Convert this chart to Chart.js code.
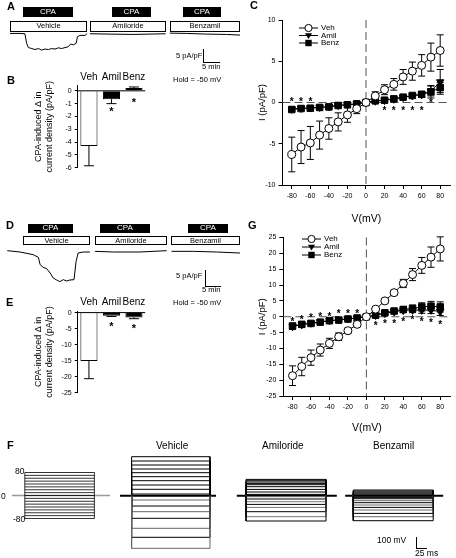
<!DOCTYPE html>
<html>
<head>
<meta charset="utf-8">
<script src="https://cdn.jsdelivr.net/npm/chart.js@4.4.0/dist/chart.umd.min.js"></script>
<style>
  body { margin: 0; width: 456px; height: 558px; position: relative; overflow: hidden; background: #fff; font-family: "Liberation Sans", Arial, sans-serif; color: #000; }
  canvas { position: absolute; }
  .t, .cpa, .drug { will-change: transform; -webkit-font-smoothing: antialiased; }
  .t { position: absolute; white-space: nowrap; line-height: 1; }
  .pl { font-weight: bold; font-size: 11px; }
  .cpa { position: absolute; background: #000; color: #fff; font-size: 8px; text-align: center; }
  .drug { position: absolute; border: 1px solid #000; box-sizing: border-box; font-size: 7.5px; text-align: center; background: #fff; }
  .vbar { position: absolute; border-left: 1px solid #000; }
  .hbar { position: absolute; border-top: 1px solid #000; }
</style>
</head>
<body>
<!-- panel letters -->
<div class="t pl" style="left:7px;top:1px">A</div>
<div class="t pl" style="left:7px;top:75px">B</div>
<div class="t pl" style="left:250px;top:0px">C</div>
<div class="t pl" style="left:6px;top:220px">D</div>
<div class="t pl" style="left:6px;top:297px">E</div>
<div class="t pl" style="left:7px;top:440px">F</div>
<div class="t pl" style="left:248px;top:220px">G</div>

<!-- A protocol boxes -->
<div class="cpa" style="left:23px;top:7px;width:50px;height:10px;line-height:10px">CPA</div>
<div class="cpa" style="left:112px;top:7px;width:39px;height:10px;line-height:10px">CPA</div>
<div class="cpa" style="left:183px;top:7px;width:38px;height:10px;line-height:10px">CPA</div>
<div class="drug" style="left:10px;top:20.5px;width:77px;height:10.5px;line-height:8.5px">Vehicle</div>
<div class="drug" style="left:90px;top:20.5px;width:76px;height:10.5px;line-height:8.5px">Amiloride</div>
<div class="drug" style="left:170px;top:20.5px;width:70px;height:10.5px;line-height:8.5px">Benzamil</div>
<div class="t" style="left:176px;top:51.5px;font-size:7.5px">5 pA/pF</div>
<div class="vbar" style="left:202.5px;top:49px;height:12.5px"></div>
<div class="hbar" style="left:202.5px;top:61.5px;width:17px"></div>
<div class="t" style="left:202px;top:63px;font-size:7.5px">5 min</div>
<div class="t" style="left:173px;top:76px;font-size:7.5px">Hold = -50 mV</div>

<!-- D protocol boxes -->
<div class="cpa" style="left:28px;top:224px;width:45px;height:8.5px;line-height:8.5px">CPA</div>
<div class="cpa" style="left:100px;top:224px;width:50px;height:8.5px;line-height:8.5px">CPA</div>
<div class="cpa" style="left:188px;top:224px;width:40px;height:8.5px;line-height:8.5px">CPA</div>
<div class="drug" style="left:23px;top:236px;width:67px;height:9px;line-height:7px">Vehicle</div>
<div class="drug" style="left:95px;top:236px;width:72px;height:9px;line-height:7px">Amiloride</div>
<div class="drug" style="left:171px;top:236px;width:69px;height:9px;line-height:7px">Benzamil</div>
<div class="t" style="left:176px;top:272px;font-size:7.5px">5 pA/pF</div>
<div class="vbar" style="left:205px;top:270px;height:16px"></div>
<div class="hbar" style="left:205px;top:286px;width:16px"></div>
<div class="t" style="left:202px;top:286px;font-size:7.5px">5 min</div>
<div class="t" style="left:173px;top:299px;font-size:7.5px">Hold = -50 mV</div>

<!-- F labels -->
<div class="t" style="left:156px;top:441px;font-size:10px">Vehicle</div>
<div class="t" style="left:262px;top:441px;font-size:10px">Amiloride</div>
<div class="t" style="left:373px;top:441px;font-size:10px">Benzamil</div>
<div class="t" style="left:15px;top:467px;font-size:8.5px">80</div>
<div class="t" style="left:1px;top:491.5px;font-size:8.5px">0</div>
<div class="t" style="left:13px;top:515px;font-size:8.5px">-80</div>
<div class="t" style="left:377px;top:535.5px;font-size:8.5px">100 mV</div>
<div class="vbar" style="left:416px;top:537px;height:11px"></div>
<div class="hbar" style="left:416px;top:548px;width:11px"></div>
<div class="t" style="left:415px;top:549px;font-size:8.5px">25 ms</div>

<script>
// ---- data ----
const voltages = [-80, -70, -60, -50, -40, -30, -20, -10, 0, 10, 20, 30, 40, 50, 60, 70, 80];
const vTicks = [-80, -60, -40, -20, 0, 20, 40, 60, 80];

// panel C (pA/pF)
const cVeh = [-6.3, -5.4, -4.9, -3.95, -3.15, -2.35, -1.5, -0.75, 0, 0.8, 1.55, 2.2, 3.1, 3.8, 4.5, 5.5, 6.3];
const cVehErr = [2.1, 2.0, 2.0, 1.7, 1.3, 1.1, 0.9, 0.6, 0, 0.5, 0.6, 0.7, 0.9, 1.1, 1.3, 1.7, 1.9];
const cAmil = [-0.8, -0.7, -0.65, -0.58, -0.5, -0.35, -0.27, -0.15, 0, 0.18, 0.26, 0.42, 0.62, 0.82, 0.95, 1.4, 2.5];
const cAmilErr = [0.25, 0.2, 0.2, 0.2, 0.15, 0.15, 0.1, 0.1, 0, 0.1, 0.15, 0.15, 0.2, 0.25, 0.35, 0.6, 1.5];
const cBenz = [-0.85, -0.73, -0.69, -0.6, -0.53, -0.36, -0.28, -0.16, 0, 0.2, 0.28, 0.44, 0.65, 0.85, 1.0, 1.3, 1.8];
const cBenzErr = [0.2, 0.15, 0.15, 0.15, 0.1, 0.1, 0.1, 0.1, 0, 0.1, 0.1, 0.15, 0.15, 0.2, 0.3, 0.75, 0.6];
const cTicks = [-10, -5, 0, 5, 10];
const cStarV = [-80, -70, -60, 20, 30, 40, 50, 60, 70];
const cStarI = [0.4, 0.4, 0.4, -0.7, -0.7, -0.7, -0.7, -0.7, 0.3];

// panel G (pA/pF)
const gVeh = [-18.6, -15.7, -12.9, -10.5, -8.4, -6.3, -4.4, -2.4, 0, 2.4, 5.0, 7.6, 10.5, 13.3, 16.2, 18.8, 21.4];
const gVehErr = [3.1, 2.9, 2.4, 1.9, 1.6, 1.2, 0.8, 0.5, 0, 0.4, 0.6, 0.7, 1.3, 1.9, 2.5, 3.2, 3.8];
const gAmil = [-3.1, -2.5, -2.0, -1.6, -1.2, -0.95, -0.65, -0.35, 0, 0.45, 1.1, 1.6, 2.0, 2.1, 2.1, 2.1, 1.6];
const gAmilErr = [0.9, 0.7, 0.6, 0.5, 0.4, 0.3, 0.3, 0.2, 0, 0.3, 0.4, 0.5, 0.7, 0.8, 1.0, 1.1, 1.2];
const gBenz = [-2.9, -2.4, -2.1, -1.7, -1.25, -1.05, -0.7, -0.4, 0, 0.5, 1.25, 1.8, 2.3, 2.6, 3.1, 3.35, 3.1];
const gBenzErr = [0.8, 0.7, 0.6, 0.5, 0.4, 0.3, 0.3, 0.2, 0, 0.3, 0.5, 0.7, 0.9, 1.1, 1.3, 1.5, 1.6];
const gTicks = [-25, -20, -15, -10, -5, 0, 5, 10, 15, 20, 25];
const gStarV = [-80, -70, -60, -50, -40, -30, -20, -10, 10, 20, 30, 40, 50, 60, 70, 80];
const gStarI = [-0.8, 0, 0.5, 1.0, 1.0, 1.9, 1.9, 1.9, -2.1, -1.3, -1.3, -0.7, -0.2, -0.7, -1.0, -1.6];

// panels B and E
const groups = ['Veh', 'Amil', 'Benz'];
const bMean = [-4.3, -0.65, 0.22];
const bErr = [1.55, 0.35, 0.08];
const bStar = [null, -1.4, -0.67];
const bTicks = [-6, -5, -4, -3, -2, -1, 0];
const eMean = [-15.1, -1.0, -1.5];
const eErr = [5.5, 0.2, 0.4];
const eStar = [null, -3.4, -4.0];
const eTicks = [-25, -20, -15, -10, -5, 0];

// panel A traces (time in min, current in pA/pF)
const aVehT = [2.9, 5.8, 7.2, 7.7, 8.2, 9.2, 10.1, 11.1, 12.0, 13.0, 14.0, 14.9, 15.9, 16.9, 17.8, 18.8, 19.7, 20.4, 21.2, 22.0, 22.4, 23.1, 24.6, 25.2];
const aVehI = [0, 0, -0.13, -4.0, -5.7, -6.1, -6.5, -6.1, -6.7, -6.3, -6.5, -6.1, -6.3, -5.8, -6.1, -5.7, -5.4, -4.3, -4.6, -4.0, -1.35, -0.8, -0.8, 0];
const aAmilT = [26.0, 31.8, 38.5, 43.4, 47.9];
const aAmilI = [-0.13, -0.27, -0.4, -0.27, -0.13];
const aBenzT = [49.1, 54.0, 59.7, 65.5, 69.4];
const aBenzI = [0.13, 0, -0.27, -0.4, -0.67];

// panel D traces
const dVehT = [2.1, 5.8, 9.6, 11.1, 11.6, 12.5, 13.5, 14.5, 15.4, 16.4, 17.3, 18.3, 19.3, 20.2, 21.4, 22.0, 22.6, 24.1, 26.0];
const dVehI = [0, -0.4, -1.2, -2.0, -4.2, -5.0, -5.4, -6.7, -8.2, -8.8, -9.3, -8.7, -9.1, -8.8, -8.7, -3.2, -0.7, -0.4, -0.4];
const dAmilT = [27.5, 32.8, 40.5, 48.2];
const dAmilI = [-0.2, -0.4, -0.4, 0];
const dBenzT = [49.6, 55.9, 62.6, 69.4];
const dBenzI = [-0.2, -0.2, -0.4, -0.7];

// panel F: sweep amplitudes for steps -80..80 mV (scale-bar units), times in ms
const fVehAmp = [-526, -416, -326, -226, -160, -103, -43, 17, 64, 107, 150, 190, 230, 267, 307, 347, 390];
const fAmilAmp = [-253, -210, -160, -117, -87, -60, -33, -10, 13, 37, 63, 90, 110, 123, 137, 150, 163];
const fBenzAmp = [-250, -210, -177, -143, -117, -93, -70, -50, -30, -17, -3, 7, 17, 27, 37, 47, 57];
const fOn = [54, 340, 608];
const fOff = [250, 540, 808];
const fBaseFrom = [25, 317, 588];
const fBaseTo = [265, 567, 833];
const pOn = 62, pOff = 236;
const pZero = [30, 275];

// ---- setup ----
Chart.defaults.font.family = "'Liberation Sans', Arial, sans-serif";
Chart.defaults.color = '#000';
Chart.defaults.animation = false;
Chart.defaults.responsive = false;
Chart.defaults.plugins.legend.display = false;
Chart.defaults.plugins.tooltip.enabled = false;

function place(left, top, w, h) {
  const c = document.createElement('canvas');
  c.width = w; c.height = h;
  c.style.left = left + 'px'; c.style.top = top + 'px';
  c.style.width = w + 'px'; c.style.height = h + 'px';
  document.body.appendChild(c);
  return c;
}

const errorBars = {
  id: 'errorBars',
  beforeDatasetsDraw(chart) {
    const ctx = chart.ctx, ys = chart.scales.y;
    chart.data.datasets.forEach((ds, di) => {
      if (!ds.err) return;
      const meta = chart.getDatasetMeta(di);
      ctx.save();
      ctx.strokeStyle = '#000';
      ctx.lineWidth = 1;
      meta.data.forEach((pt, i) => {
        const e = ds.err[i];
        if (!e) return;
        const d = ds.data[i];
        const v = typeof d === 'object' ? d.y : d;
        let a, b;
        if (ds.oneSided) { a = v; b = v + Math.sign(v) * e; } else { a = v - e; b = v + e; }
        const y1 = ys.getPixelForValue(a), y2 = ys.getPixelForValue(b);
        const cw = ds.capW || 3.5;
        ctx.beginPath();
        ctx.moveTo(pt.x, y1); ctx.lineTo(pt.x, y2);
        ctx.moveTo(pt.x - cw, y2); ctx.lineTo(pt.x + cw, y2);
        if (!ds.oneSided) { ctx.moveTo(pt.x - cw, y1); ctx.lineTo(pt.x + cw, y1); }
        ctx.stroke();
      });
      ctx.restore();
    });
  }
};

const zeroDash = {
  id: 'zeroDash',
  beforeDatasetsDraw(chart) {
    const { ctx, chartArea: a, scales: { x, y } } = chart;
    const x0 = x.getPixelForValue(0), y0 = y.getPixelForValue(0);
    ctx.save();
    ctx.strokeStyle = '#555';
    ctx.lineWidth = 1;
    ctx.setLineDash([8, 4]);
    ctx.beginPath();
    ctx.moveTo(x0, a.top); ctx.lineTo(x0, a.bottom);
    ctx.moveTo(a.left, y0); ctx.lineTo(a.right, y0);
    ctx.stroke();
    ctx.restore();
  }
};

function starPlugin(xs, vals, size) {
  return {
    id: 'stars',
    afterDatasetsDraw(chart) {
      const { ctx, scales: { x, y } } = chart;
      ctx.save();
      ctx.font = 'bold ' + size + "px 'Liberation Sans', Arial";
      ctx.textAlign = 'center';
      ctx.textBaseline = 'alphabetic';
      ctx.fillStyle = '#000';
      xs.forEach((v, i) => {
        if (vals[i] == null) return;
        ctx.fillText('*', x.getPixelForValue(v), y.getPixelForValue(vals[i]) + size * 0.6);
      });
      ctx.restore();
    }
  };
}

function drawMarker(ctx, kind, x, y) {
  ctx.beginPath();
  if (kind === 'circle') {
    ctx.arc(x, y, 3.6, 0, Math.PI * 2);
    ctx.fillStyle = '#fff'; ctx.fill(); ctx.stroke();
  } else if (kind === 'tri') {
    ctx.moveTo(x - 3.6, y - 2.2); ctx.lineTo(x + 3.6, y - 2.2); ctx.lineTo(x, y + 3.6); ctx.closePath();
    ctx.fillStyle = '#000'; ctx.fill();
  } else {
    ctx.rect(x - 3.2, y - 3.2, 6.4, 6.4);
    ctx.fillStyle = '#000'; ctx.fill();
  }
}

function ivLegend(lx, rows) {
  const items = [['Veh', 'circle'], ['Amil', 'tri'], ['Benz', 'rect']];
  return {
    id: 'ivLegend',
    afterDraw(chart) {
      const ctx = chart.ctx;
      ctx.save();
      ctx.strokeStyle = '#000'; ctx.lineWidth = 1;
      ctx.font = "8px 'Liberation Sans', Arial";
      ctx.textBaseline = 'middle';
      items.forEach((it, i) => {
        const y = rows[i];
        ctx.beginPath(); ctx.moveTo(lx, y); ctx.lineTo(lx + 19, y); ctx.stroke();
        drawMarker(ctx, it[1], lx + 9.5, y);
        ctx.fillStyle = '#000';
        ctx.fillText(it[0], lx + 22, y);
      });
      ctx.restore();
    }
  };
}

function ivChart(canvas, veh, vehErr, amil, amilErr, benz, benzErr, ticks, yMin, yMax, pad, yW, xH, extra) {
  const pts = (arr) => voltages.map((v, i) => ({ x: v, y: arr[i] }));
  const line = { borderColor: '#000', borderWidth: 1, pointBorderColor: '#000', pointBorderWidth: 1 };
  return new Chart(canvas, {
    type: 'line',
    data: {
      datasets: [
        Object.assign({ label: 'Veh', data: pts(veh), err: vehErr, pointStyle: 'circle', pointRadius: 4, pointBackgroundColor: '#fff' }, line),
        Object.assign({ label: 'Benz', data: pts(benz), err: benzErr, pointStyle: 'rect', pointRadius: 4.6, pointBackgroundColor: '#000' }, line),
        Object.assign({ label: 'Amil', data: pts(amil), err: amilErr, pointStyle: 'triangle', rotation: 180, pointRadius: 4.2, pointBackgroundColor: '#000' }, line)
      ]
    },
    options: {
      layout: { padding: pad },
      scales: {
        x: {
          type: 'linear', min: -90, max: 91,
          grid: { display: true, drawOnChartArea: false, drawTicks: true, tickLength: 4, color: '#000' },
          border: { display: true, color: '#000', width: 1 },
          afterBuildTicks: (s) => { s.ticks = vTicks.map(v => ({ value: v })); },
          afterFit: (s) => { s.height = xH; },
          ticks: { font: { size: 7 }, padding: 3, maxRotation: 0 },
          title: { display: true, text: 'V(mV)', font: { size: 10.5 }, padding: 0 }
        },
        y: {
          min: yMin, max: yMax,
          grid: { display: true, drawOnChartArea: false, drawTicks: true, tickLength: 4, color: '#000' },
          border: { display: true, color: '#000', width: 1 },
          afterBuildTicks: (s) => { s.ticks = ticks.map(v => ({ value: v })); },
          afterFit: (s) => { s.width = yW; },
          ticks: { font: { size: 7 }, padding: 3 },
          title: { display: true, text: 'I (pA/pF)', font: { size: 9.5 }, padding: 0 }
        }
      }
    },
    plugins: [zeroDash, errorBars].concat(extra)
  });
}

// C
ivChart(place(230, 0, 226, 225), cVeh, cVehErr, cAmil, cAmilErr, cBenz, cBenzErr, cTicks, -10, 10,
  { left: 27, right: 4, top: 20, bottom: 0 }, 25.5, 40,
  [starPlugin(cStarV, cStarI, 10), ivLegend(69, [28, 35.5, 43])]);

// G
ivChart(place(230, 225, 226, 209), gVeh, gVehErr, gAmil, gAmilErr, gBenz, gBenzErr, gTicks, -25, 25,
  { left: 27, right: 4, top: 12.5, bottom: 0 }, 26.3, 38,
  [starPlugin(gStarV, gStarI, 10), ivLegend(72, [14, 22, 30])]);

// bar charts
function barChart(canvas, mean, err, stars, ticks, yMin, yMax, pad) {
  const barLabels = {
    id: 'barLabels',
    afterDraw(chart) {
      const { ctx, chartArea: a, scales: { x, y } } = chart;
      ctx.save();
      ctx.strokeStyle = '#000'; ctx.lineWidth = 1;
      const y0 = y.getPixelForValue(0);
      ctx.beginPath(); ctx.moveTo(a.left, y0); ctx.lineTo(a.right, y0); ctx.stroke();
      ctx.font = "10px 'Liberation Sans', Arial";
      ctx.fillStyle = '#000';
      ctx.textAlign = 'center'; ctx.textBaseline = 'middle';
      groups.forEach((g, i) => ctx.fillText(g, x.getPixelForValue(i), a.top - 8.5));
      ctx.restore();
    }
  };
  return new Chart(canvas, {
    type: 'bar',
    data: {
      labels: groups,
      datasets: [{
        data: mean, err: err, oneSided: true, capW: 5,
        backgroundColor: ['#fff', '#000', '#000'], borderColor: '#000', borderWidth: 1,
        categoryPercentage: 0.8, barPercentage: 0.95
      }]
    },
    options: {
      layout: { padding: pad },
      scales: {
        x: { display: false },
        y: {
          min: yMin, max: yMax,
          grid: { display: true, drawOnChartArea: false, drawTicks: true, tickLength: 3, color: '#000' },
          border: { display: true, color: '#000', width: 1 },
          afterBuildTicks: (s) => { s.ticks = ticks.map(v => ({ value: v })); },
          afterFit: (s) => { s.width = 44.7; },
          ticks: { font: { size: 7 }, padding: 3 },
          title: { display: true, text: ['CPA-induced \u0394 in', 'current density (pA/pF)'], font: { size: 9, lineHeight: 1.2 }, padding: 0 }
        }
      }
    },
    plugins: [errorBars, barLabels, starPlugin([0, 1, 2], stars, 11)]
  });
}

barChart(place(0, 65, 160, 110), bMean, bErr, bStar, bTicks, -6, 0.4, { left: 33, right: 14.8, top: 20.7, bottom: 7.3 });
barChart(place(0, 290, 160, 110), eMean, eErr, eStar, eTicks, -25, 0.5, { left: 33, right: 14.8, top: 21, bottom: 4.3 });

// current traces (A, D)
function traceChart(canvas, sets, yMin, yMax) {
  return new Chart(canvas, {
    type: 'line',
    data: {
      datasets: sets.map(s => ({
        data: s[0].map((t, i) => ({ x: t, y: s[1][i] })),
        borderColor: '#000', borderWidth: 1, pointRadius: 0, tension: 0
      }))
    },
    options: {
      layout: { padding: 0 },
      scales: {
        x: { type: 'linear', min: 0, max: 69.4, display: false },
        y: { min: yMin, max: yMax, display: false }
      }
    }
  });
}

traceChart(place(0, 25.9, 240, 28), [[aVehT, aVehI], [aAmilT, aAmilI], [aBenzT, aBenzI]], -8.3, 3);
traceChart(place(0, 244, 240, 44), [[dVehT, dVehI], [dAmilT, dAmilI], [dBenzT, dBenzI]], -11.2, 2);

// F: voltage protocol
const protoSets = voltages.map(v => ({ data: [{ x: pOn, y: v }, { x: pOff, y: v }], borderColor: '#000', borderWidth: 0.8, pointRadius: 0 }));
protoSets.push({ data: [{ x: pOn, y: voltages[0] }, { x: pOn, y: voltages[voltages.length - 1] }], borderColor: '#000', borderWidth: 0.8, pointRadius: 0 });
protoSets.push({ data: [{ x: pOff, y: voltages[0] }, { x: pOff, y: voltages[voltages.length - 1] }], borderColor: '#000', borderWidth: 0.8, pointRadius: 0 });
protoSets.push({ data: [{ x: pZero[0], y: 0 }, { x: pZero[1], y: 0 }], borderColor: '#999', borderWidth: 1.5, pointRadius: 0 });
new Chart(place(0, 461, 115, 69), {
  type: 'line',
  data: { datasets: protoSets },
  options: {
    layout: { padding: 0 },
    scales: {
      x: { type: 'linear', min: 0, max: 287.5, display: false },
      y: { min: -120, max: 120, display: false }
    }
  }
});

// F: current sweeps
const sweepSets = [];
[fVehAmp, fAmilAmp, fBenzAmp].forEach((amps, k) => {
  amps.forEach((amp, i) => {
    let col = '#000';
    if (k === 0) col = (i < 8 && i % 2 === 0) ? '#666' : '#000';
    if (k === 1) col = (i < 9 && i % 2 === 1) ? '#777' : '#000';
    if (k === 2) col = (i < 9 && i % 2 === 1) ? '#666' : '#000';
    sweepSets.push({
      data: [{ x: fOn[k], y: 0 }, { x: fOn[k], y: amp }, { x: fOff[k], y: amp }, { x: fOff[k], y: 0 }],
      borderColor: col, borderWidth: 1, pointRadius: 0
    });
  });
  sweepSets.push({
    data: [{ x: fBaseFrom[k], y: 0 }, { x: fBaseTo[k], y: 0 }],
    borderColor: '#000', borderWidth: 2, pointRadius: 0
  });
});
new Chart(place(110, 450, 340, 105), {
  type: 'line',
  data: { datasets: sweepSets },
  options: {
    layout: { padding: 0 },
    scales: {
      x: { type: 'linear', min: 0, max: 850, display: false },
      y: { min: -593, max: 457, display: false }
    }
  }
});
</script>
</body>
</html>
